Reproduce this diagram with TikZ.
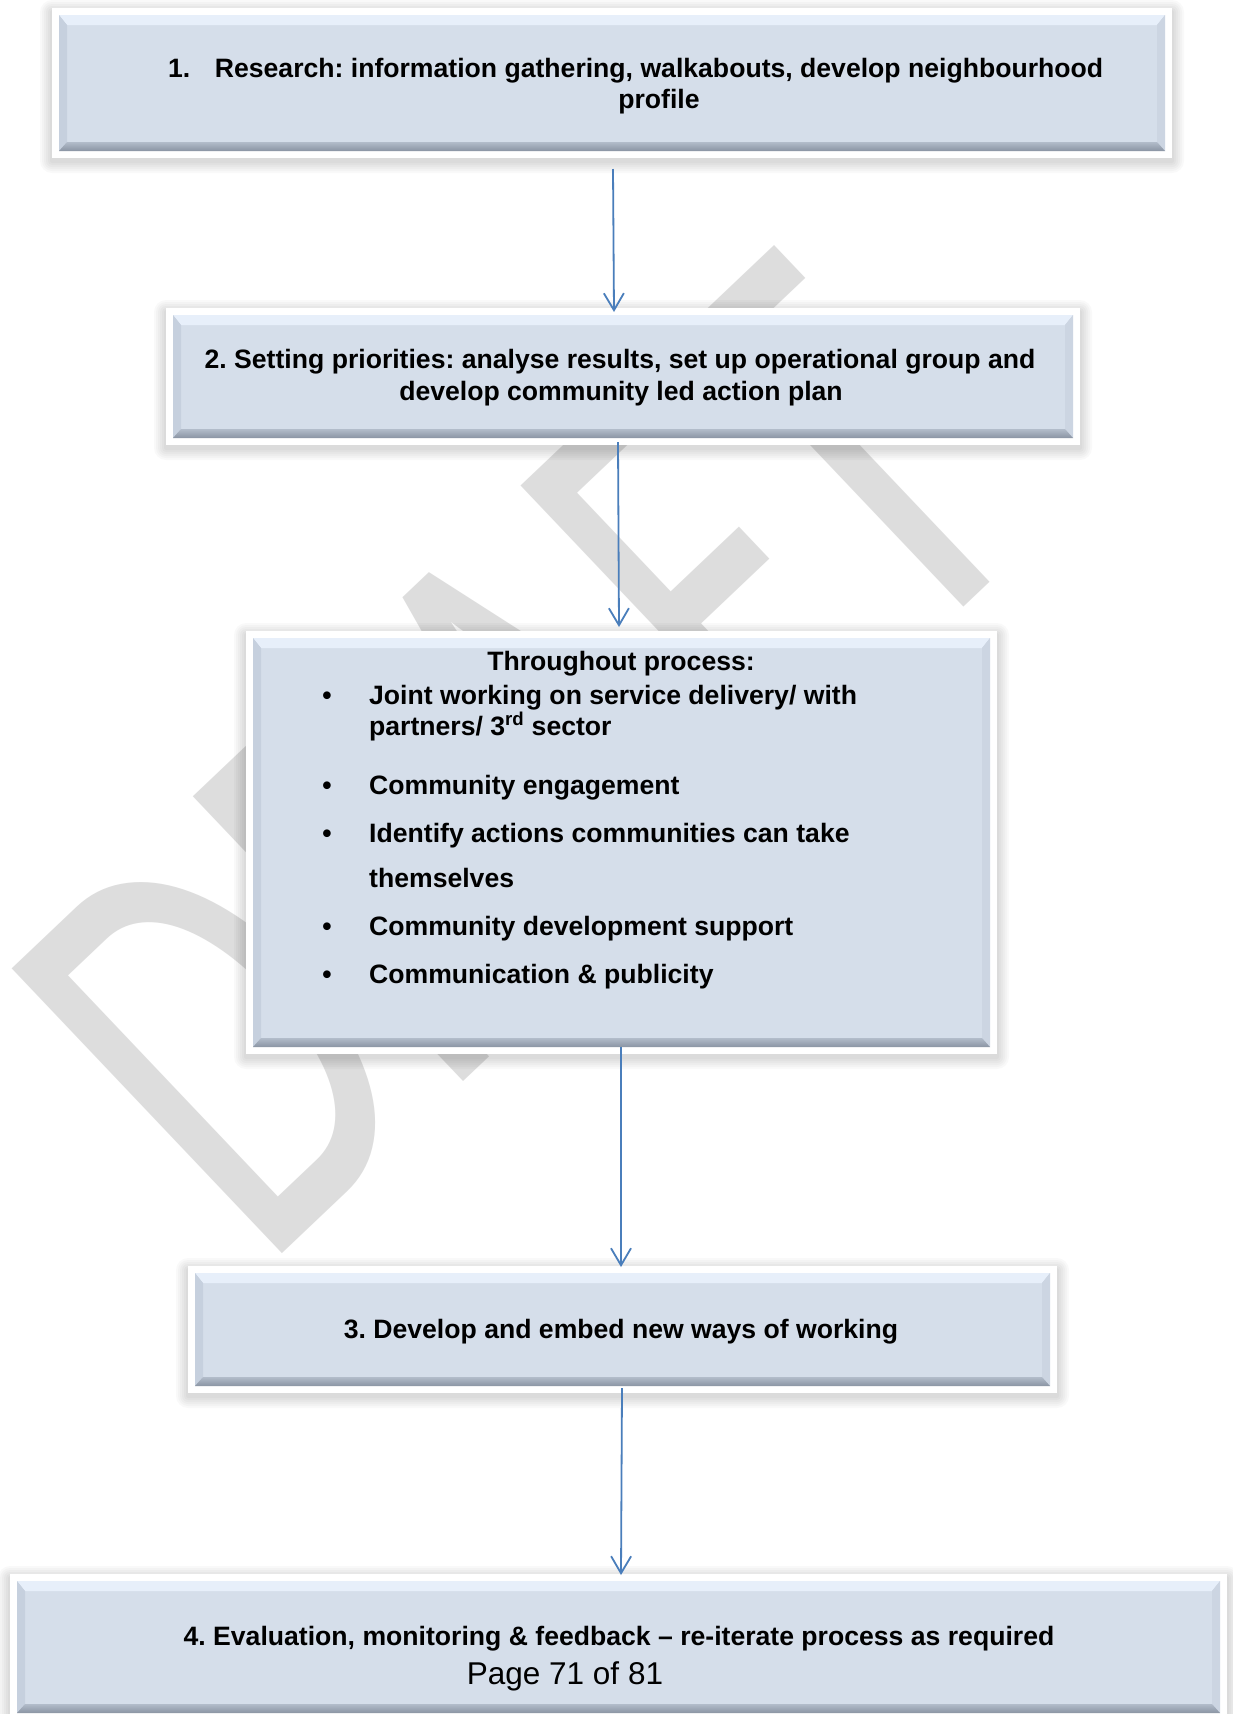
\documentclass[tikz,border=0pt]{standalone}
\usepackage{graphicx}
\usepackage{fontspec}
\setmainfont{Liberation Sans}
\newfontfamily\wmfont{Carlito}
\usetikzlibrary{arrows.meta}
\frenchspacing
\definecolor{boxfill}{RGB}{213,222,234}
\definecolor{bevtop}{RGB}{231,239,250}
\definecolor{bevleft}{RGB}{198,208,222}
\definecolor{bevright}{RGB}{204,213,226}
\definecolor{bevbotA}{RGB}{178,188,202}
\definecolor{bevbotB}{RGB}{138,148,163}
\definecolor{arrblue}{RGB}{74,126,187}
\definecolor{wmgray}{RGB}{221,221,221}
\newcommand\flowbox[5]{%
  \foreach \d in {2,4,...,12}{
    \fill[black, opacity=0.022, rounded corners=\d pt] (#2-7-\d, #3-7-\d+4) rectangle (#4+7+\d, #5+7+\d+3);
  }
  \fill[white] (#2-7,#3-7) rectangle (#4+7,#5+7);
  \node[boxbase, anchor=north west, minimum width={#4-#2}, minimum height={#5-#3}] (#1) at (#2,#3) {};
  \fill[bevtop] (#2,#3) -- (#4,#3) -- (#4-8,#3+10) -- (#2+8,#3+10) -- cycle;
  \fill[bevleft] (#2,#3) -- (#2+8,#3+10) -- (#2+8,#5-9) -- (#2,#5) -- cycle;
  \fill[bevright] (#4,#3) -- (#4-8,#3+10) -- (#4-8,#5-9) -- (#4,#5) -- cycle;
  \shade[top color=bevbotA, bottom color=bevbotB] (#2,#5) -- (#2+8,#5-9) -- (#4-8,#5-9) -- (#4,#5) -- cycle;
}
\begin{document}
\begin{tikzpicture}[x=1pt,y=-1pt,
  boxbase/.style={fill=boxfill, draw=none, inner sep=0pt, outer sep=0pt},
  txt/.style={font=\bfseries\fontsize{26.6}{31}\selectfont, inner sep=0pt, anchor=base},
  txtl/.style={txt, anchor=base west},
  arr/.style={draw=arrblue, line width=1.8pt, -{Straight Barb[length=17pt,width=20pt,line width=1.8pt]}}]
\useasboundingbox (0,0) rectangle (1233,1714);
\fill[white] (0,0) rectangle (1233,1714);
% watermark
\node[rotate=43.5, anchor=base west, inner sep=0pt, text=wmgray] (wm) at (262,1273)
  {\scalebox{0.99}[1.5]{\wmfont\fontsize{408}{408}\selectfont DRAFT}};
% boxes
\flowbox{b1}{59}{15}{1165}{151}
\flowbox{b2}{173}{315}{1073}{438}
\flowbox{tb}{253}{638}{990}{1047}
\flowbox{b3}{195}{1273}{1050}{1386}
\flowbox{b4}{17}{1581}{1220}{1713}
% box 1 text
\node[txtl] (t1n) at (168,77) {1.};
\node[txt] (t1a) at (659,77) {Research: information gathering, walkabouts, develop neighbourhood};
\node[txt] (t1b) at (659,108) {profile};
% box 2 text
\node[txt] (t2a) at (620,368) {2. Setting priorities: analyse results, set up operational group and};
\node[txt] (t2b) at (621,400) {develop community led action plan};
% throughout box
\node[txt] (tth) at (621,670) {Throughout process:};
\node[txt] (u1) at (327,704) {•};
\node[txtl] (l1a) at (369,704) {Joint working on service delivery/ with};
\node[txtl] (l1b) at (369,735) {partners/ 3\textsuperscript{rd} sector};
\node[txt] (u2) at (327,794) {•};
\node[txtl] (l2) at (369,794) {Community engagement};
\node[txt] (u3) at (327,842) {•};
\node[txtl] (l3a) at (369,842) {Identify actions communities can take};
\node[txtl] (l3b) at (369,887) {themselves};
\node[txt] (u4) at (327,935) {•};
\node[txtl] (l4) at (369,935) {Community development support};
\node[txt] (u5) at (327,983) {•};
\node[txtl] (l5) at (369,983) {Communication \& publicity};
% box 3 text
\node[txt] (t3) at (621,1338) {3. Develop and embed new ways of working};
% box 4 text
\node[txt] (t4) at (619,1645) {4. Evaluation, monitoring \& feedback – re-iterate process as required};
\node[inner sep=0pt, anchor=base, font=\fontsize{31.5}{35}\selectfont] (pg) at (565,1684) {Page 71 of 81};
% arrows
\draw[arr] ([xshift=1pt,yshift=-18pt]b1.south) -- ([xshift=-9pt,yshift=3pt]b2.north);
\draw[arr] ([xshift=-5pt,yshift=-4pt]b2.south) -- ([xshift=-2.5pt,yshift=11pt]tb.north);
\draw[arr] ([xshift=-0.5pt]tb.south) -- ([xshift=-1.5pt,yshift=6pt]b3.north);
\draw[arr] ([xshift=-0.5pt,yshift=-2pt]b3.south) -- ([xshift=2.5pt,yshift=6pt]b4.north);
\end{tikzpicture}
\end{document}
